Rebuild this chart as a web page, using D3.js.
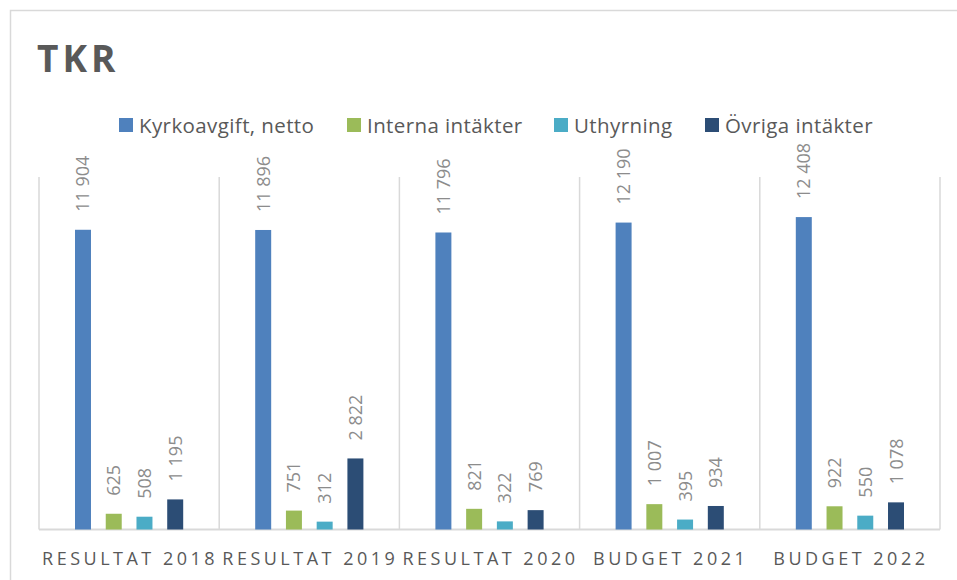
<!DOCTYPE html>
<html>
<head>
<meta charset="utf-8">
<script src="https://cdn.jsdelivr.net/npm/d3@7"></script>
<style>
  body { margin: 0; background: #fff; }
  svg { display: block; font-family: "Open Sans", "Liberation Sans", sans-serif; }
</style>
</head>
<body>
<div class="chart"></div>
<script>
var categories = ["RESULTAT 2018", "RESULTAT 2019", "RESULTAT 2020", "BUDGET 2021", "BUDGET 2022"];
var seriesNames = ["Kyrkoavgift, netto", "Interna intäkter", "Uthyrning", "Övriga intäkter"];
var kyrkoavgift = [11904, 11896, 11796, 12190, 12408];
var interna = [625, 751, 821, 1007, 922];
var uthyrning = [508, 312, 322, 395, 550];
var ovriga = [1195, 2822, 769, 934, 1078];
var colors = ["#4f81bd", "#9bbb59", "#4bacc6", "#2c4d75"];

var series = [kyrkoavgift, interna, uthyrning, ovriga];
var width = 957, height = 580;
var margin = { left: 39, right: 17, top: 177, bottom: 50.5 };

var svg = d3.select(".chart").append("svg")
  .attr("width", width)
  .attr("height", height);

// outer frame
svg.append("rect")
  .attr("x", 10.5).attr("y", 10.5)
  .attr("width", width + 20).attr("height", height + 20)
  .attr("fill", "none")
  .attr("stroke", "#d9d9d9")
  .attr("stroke-width", 1.5);

svg.append("text")
  .attr("x", 37).attr("y", 72)
  .attr("font-size", 37)
  .attr("font-weight", "bold")
  .attr("letter-spacing", 4)
  .attr("fill", "#595959")
  .text("TKR");

var x = d3.scaleBand()
  .domain(categories)
  .range([margin.left, width - margin.right]);

var x1 = d3.scaleBand()
  .domain(d3.range(series.length))
  .range([36, x.bandwidth() - 36])
  .paddingInner(0.48);

var y = d3.scaleLinear()
  .domain([0, 14000])
  .range([height - margin.bottom, margin.top]);

// vertical separators
var bounds = categories.map(function(c) { return x(c); }).concat([x.range()[1]]);
svg.selectAll(".sep")
  .data(bounds)
  .join("line")
  .attr("x1", function(d) { return d; })
  .attr("x2", function(d) { return d; })
  .attr("y1", y(14000))
  .attr("y2", y(0))
  .attr("stroke", "#d9d9d9")
  .attr("stroke-width", 1.5);

// baseline
svg.append("line")
  .attr("x1", x.range()[0]).attr("x2", x.range()[1])
  .attr("y1", y(0)).attr("y2", y(0))
  .attr("stroke", "#d9d9d9")
  .attr("stroke-width", 2);

var groups = svg.selectAll(".grp")
  .data(categories)
  .join("g")
  .attr("transform", function(d) { return "translate(" + x(d) + ",0)"; });

groups.each(function(cat, ci) {
  var g = d3.select(this);
  series.forEach(function(s, si) {
    var v = s[ci];
    g.append("rect")
      .attr("x", x1(si))
      .attr("width", x1.bandwidth())
      .attr("y", y(v))
      .attr("height", y(0) - y(v))
      .attr("fill", colors[si]);
    var cx = x1(si) + x1.bandwidth() / 2 + 6.5;
    g.append("text")
      .attr("transform", "translate(" + cx + "," + (y(v) - 18) + ") rotate(-90)")
      .attr("font-size", 18)
      .attr("fill", "#8c8c8c")
      .text(d3.format(",")(v).replace(/,/g, "\u00a0"));
  });
});

// x labels
svg.selectAll(".xl")
  .data(categories)
  .join("text")
  .attr("x", function(d) { return x(d) + x.bandwidth() / 2 + 1; })
  .attr("y", 565)
  .attr("text-anchor", "middle")
  .attr("font-size", 18)
  .attr("letter-spacing", 3.5)
  .attr("fill", "#595959")
  .text(function(d) { return d; });

// legend
var legendX = [119, 347, 554, 705];
var legend = svg.selectAll(".lg")
  .data(seriesNames)
  .join("g")
  .attr("transform", function(d, i) { return "translate(" + legendX[i] + ",118)"; });
legend.append("rect")
  .attr("width", 14).attr("height", 14)
  .attr("fill", function(d, i) { return colors[i]; });
legend.append("text")
  .attr("x", 20).attr("y", 14.5)
  .attr("font-size", 20.5)
  .attr("letter-spacing", 0.4)
  .attr("fill", "#595959")
  .text(function(d) { return d; });
</script>
</body>
</html>
